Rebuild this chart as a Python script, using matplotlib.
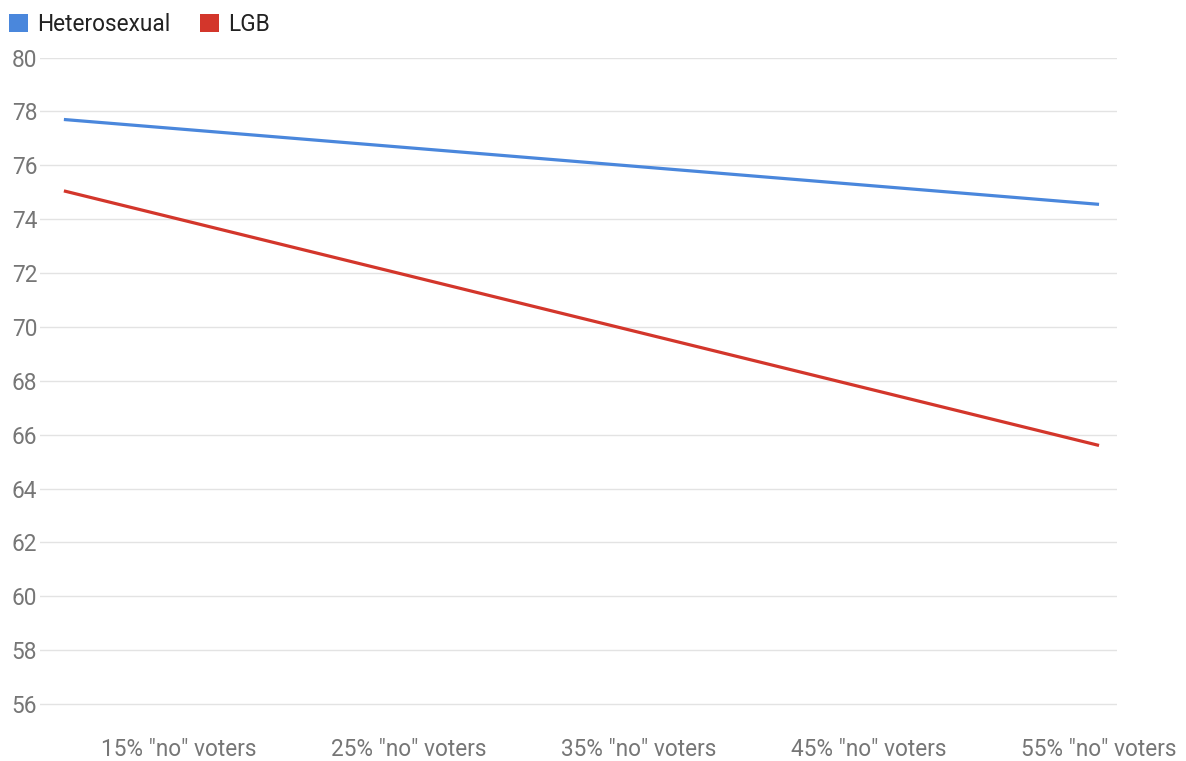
import matplotlib
matplotlib.use("Agg")
import matplotlib.pyplot as plt
from matplotlib.patches import Patch

# Share of "no" voters in the area (percent) at the ends of each trend line
no_voter_share = [10, 55]
heterosexual = [77.7, 74.55]
lgb = [75.05, 65.6]

tick_positions = [15, 25, 35, 45, 55]
tick_labels = ['15% "no" voters', '25% "no" voters', '35% "no" voters',
               '45% "no" voters', '55% "no" voters']
y_ticks = list(range(56, 81, 2))

BLUE = "#4a87dc"
RED = "#d3362b"
GRID = "#e3e3e3"
AXIS_TEXT = "#767676"
FS = 16.3

plt.rcParams["font.family"] = ["Roboto", "DejaVu Sans"]

fig = plt.figure(figsize=(11.86, 7.61), dpi=100)
ax = fig.add_axes([0.0337, 0.0394, 0.9081, 0.8850])

ax.plot(no_voter_share, heterosexual, color=BLUE, lw=2.3, solid_capstyle="butt", zorder=3)
ax.plot(no_voter_share, lgb, color=RED, lw=2.3, solid_capstyle="butt", zorder=3)

ax.set_xlim(8.96, 55.78)
ax.set_ylim(55, 80)

ax.set_yticks(y_ticks)
ax.set_yticklabels([str(v) for v in y_ticks])
ax.set_xticks(tick_positions)
ax.set_xticklabels(tick_labels)

ax.grid(axis="y", color=GRID, lw=1.0, zorder=0)
ax.grid(axis="x", visible=False)
for side in ax.spines.values():
    side.set_visible(False)

ax.tick_params(axis="both", length=0, labelsize=FS, labelcolor=AXIS_TEXT)
ax.tick_params(axis="y", pad=2)
ax.tick_params(axis="x", pad=5)

handles = [Patch(facecolor=BLUE, edgecolor="none", label="Heterosexual"),
           Patch(facecolor=RED, edgecolor="none", label="LGB")]
leg = fig.legend(handles=handles, loc="upper left", bbox_to_anchor=(0.0, 0.995),
                 ncol=2, frameon=False, fontsize=FS, handlelength=0.85,
                 handleheight=0.85, handletextpad=0.4, columnspacing=1.3,
                 borderaxespad=0.2, borderpad=0.2)
for t in leg.get_texts():
    t.set_color("#222222")

fig.savefig("out.png", dpi=100, facecolor="white")
